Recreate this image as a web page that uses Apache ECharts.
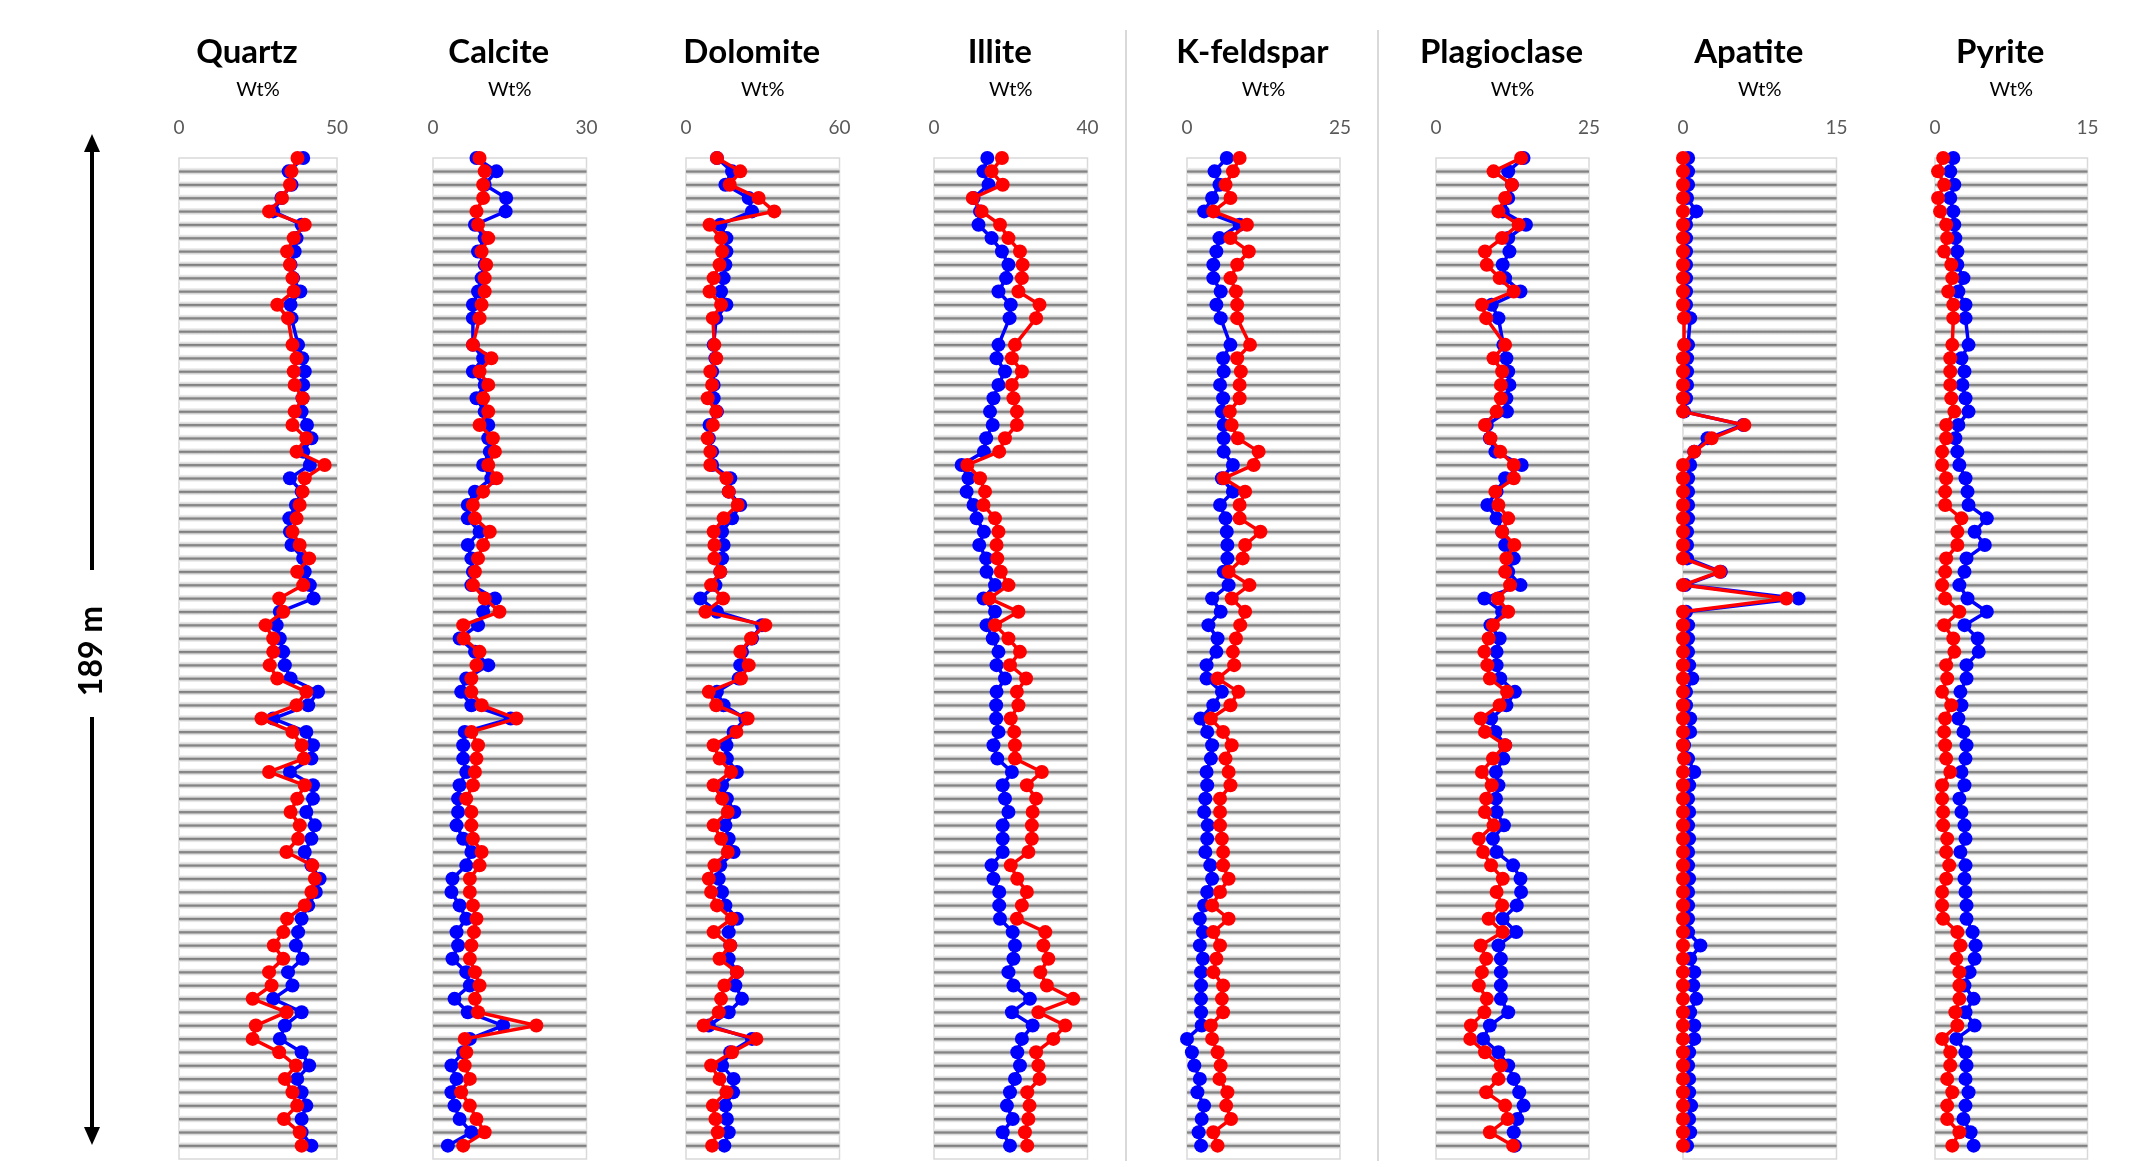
<!DOCTYPE html>
<html>
<head>
<meta charset="utf-8">
<script src="https://cdn.jsdelivr.net/npm/echarts@6/dist/echarts.min.js"></script>
<style>
html,body{margin:0;padding:0;background:#fff;}
#chart{width:2149px;height:1161px;}
</style>
</head>
<body>
<div id="chart"></div>
<script>
// ---- data (75 samples, index 13 missing) ----
const minerals = ['Quartz','Calcite','Dolomite','Illite','K-feldspar','Plagioclase','Apatite','Pyrite'];
const axisMax = [50, 30, 60, 40, 25, 25, 15, 15];
const unitLabel = 'Wt%';
const depthLabel = '189 m';
const sampleRows = Array.from({length: 76}, (_, i) => 'S' + (i + 1));

const quartzBlue = [39.3,34.7,35.6,32.4,29.8,38.8,37.2,36.6,35.3,36.1,38.4,35.3,35.6,null,37.7,39.0,39.8,39.3,39.1,38.8,40.5,41.9,39.3,41.4,35.1,38.8,37.0,34.9,35.1,35.6,39.3,39.8,41.4,42.6,31.9,30.9,31.9,33.0,33.5,35.3,44.0,40.9,29.8,40.3,42.4,41.9,35.1,42.4,42.4,40.3,43.0,41.9,39.8,41.9,44.5,43.3,40.9,38.8,37.7,37.0,39.1,34.5,35.9,29.8,38.8,33.5,31.9,38.8,41.2,37.4,38.8,40.3,38.8,38.8,41.9];
const quartzRed = [37.5,35.6,35.1,32.6,28.5,39.8,36.3,34.2,35.1,35.9,36.3,31.1,34.5,null,35.9,37.2,36.3,36.6,39.1,36.6,35.9,40.3,37.2,46.1,39.8,39.1,38.2,37.2,35.9,38.2,41.2,37.4,39.3,31.7,33.0,27.4,29.8,29.8,28.7,31.1,40.3,37.2,26.1,35.9,38.8,39.5,28.5,39.8,37.4,35.3,38.2,37.7,34.0,42.2,43.0,41.9,39.8,34.2,33.0,30.0,33.0,28.5,29.3,23.3,34.0,24.3,23.3,31.7,37.0,33.5,35.9,37.4,33.2,38.2,38.8];

const calciteBlue = [8.5,12.4,10.1,14.3,14.2,8.2,10.1,8.8,10.1,9.5,8.8,7.8,7.8,null,7.8,9.8,7.8,10.1,8.5,10.1,10.8,10.8,11.1,9.8,11.4,8.2,6.8,6.8,9.1,6.8,7.5,7.8,7.5,12.1,9.8,8.8,5.2,8.2,10.8,6.5,5.5,7.5,15.2,6.2,5.9,5.9,6.5,5.2,4.9,4.9,4.6,5.9,7.5,6.5,3.8,3.6,5.2,6.5,4.6,4.9,3.8,6.5,7.2,4.2,6.8,13.7,7.2,5.9,3.6,4.6,3.6,4.2,5.2,7.5,2.9];
const calciteRed = [9.1,10.1,9.8,9.8,8.5,8.8,10.8,9.5,10.4,10.1,10.1,9.5,9.1,null,7.8,11.4,9.1,10.8,9.8,10.8,9.1,11.7,12.1,10.8,12.4,9.8,7.8,8.2,11.1,9.8,8.8,8.2,7.8,10.1,13.0,5.9,6.0,9.1,8.5,7.5,7.5,9.5,16.3,7.5,8.8,8.5,8.2,7.8,6.5,7.5,7.5,7.8,9.5,9.1,7.2,7.2,7.8,8.5,8.0,7.5,7.2,8.2,9.1,8.2,8.8,20.2,6.2,6.5,6.2,7.2,5.5,7.2,8.5,10.1,5.9];

const dolomiteBlue = [12.1,18.0,15.4,24.5,25.8,13.4,15.8,15.8,15.4,14.7,13.7,15.8,11.8,null,10.8,11.5,10.2,10.8,10.8,12.1,9.2,8.9,10.2,10.2,17.3,16.7,21.2,18.0,14.1,14.7,14.1,13.4,11.5,5.6,12.1,29.7,25.8,21.9,21.2,20.6,12.1,14.7,23.2,18.6,15.8,16.0,19.9,14.1,16.0,18.9,15.4,16.7,18.6,13.4,12.8,14.1,15.4,19.9,16.7,17.3,16.7,19.9,19.3,21.9,16.7,8.9,25.8,17.3,14.1,18.6,18.4,15.4,16.0,16.7,15.0];
const dolomiteRed = [12.1,21.2,17.1,28.4,34.5,9.2,13.7,14.1,13.1,10.8,9.2,13.7,10.5,null,11.1,11.8,9.5,10.2,8.5,11.8,10.5,8.5,9.5,9.5,15.8,16.7,20.2,14.7,10.8,11.1,11.1,13.4,9.8,14.5,7.6,31.0,25.4,21.2,24.5,21.5,8.9,11.8,24.1,19.7,10.8,13.1,17.6,10.8,14.1,16.3,10.8,13.7,16.3,11.1,8.9,9.8,12.1,17.9,10.8,17.3,13.1,19.9,15.0,13.7,12.8,6.9,27.5,18.0,9.8,13.1,15.8,10.5,11.5,12.4,10.2];

const illiteBlue = [13.9,12.9,14.2,10.3,12.0,11.6,15.0,17.7,19.4,18.8,16.8,20.0,19.7,null,16.8,16.3,18.5,16.8,15.5,14.6,15.3,13.6,13.0,7.2,9.0,8.5,10.3,11.1,13.0,11.8,13.6,13.7,15.9,12.9,15.9,13.7,15.3,16.8,16.3,18.5,16.3,16.2,16.2,16.8,15.5,16.5,20.3,17.9,18.5,19.4,17.9,17.9,17.9,15.0,15.5,17.0,17.0,17.2,20.5,21.1,20.7,19.4,20.7,25.0,20.3,25.7,22.9,21.7,22.4,21.1,19.8,19.0,20.5,17.9,19.8];
const illiteRed = [17.7,15.0,17.9,10.1,12.4,17.2,19.4,22.4,23.1,22.9,22.0,27.5,26.6,null,21.1,20.3,22.9,20.3,20.7,21.6,21.6,18.5,17.0,8.7,12.0,13.3,12.9,15.9,16.8,16.3,16.5,17.4,19.4,14.4,22.0,15.9,19.4,22.4,19.8,24.0,21.6,22.0,20.0,20.9,21.1,21.1,28.1,24.2,26.6,25.7,25.5,25.5,24.6,20.0,21.7,24.2,22.9,21.6,29.0,28.5,29.8,27.7,29.4,36.3,27.2,34.2,31.1,26.6,27.2,27.5,24.3,24.9,24.6,23.7,24.3];

const kfeldsparBlue = [6.5,4.5,5.3,4.1,2.8,8.6,5.3,4.8,4.3,4.3,5.5,4.8,5.5,null,7.1,5.9,6.0,5.4,5.9,5.7,6.0,6.0,6.0,7.5,5.7,7.5,5.4,6.3,6.5,6.6,6.6,6.0,6.8,4.1,5.5,3.5,5.0,4.8,3.2,3.2,5.7,4.3,2.2,3.3,4.1,3.9,3.2,3.3,3.0,2.8,3.4,3.3,3.0,3.8,4.1,3.3,2.8,2.1,2.6,2.1,2.6,2.3,2.3,2.3,2.3,2.4,0.0,0.8,1.2,2.1,1.7,2.8,2.4,1.9,2.3];
const kfeldsparRed = [8.6,7.5,6.3,7.1,4.3,9.8,7.1,10.1,8.2,7.1,8.0,8.2,8.2,null,10.3,8.2,8.8,8.6,8.6,7.0,7.3,8.3,11.7,10.9,6.0,9.5,8.6,8.6,12.0,9.5,9.1,6.8,10.2,7.3,9.5,8.7,8.0,7.5,7.7,5.0,8.4,7.1,3.9,5.9,7.3,6.3,6.8,7.1,5.4,5.4,5.4,5.7,5.9,5.9,6.8,5.4,4.1,6.8,4.3,5.4,4.8,4.3,5.9,5.7,5.9,3.9,4.1,5.0,5.5,5.3,6.6,6.4,7.2,4.3,5.0];

const plagioclaseBlue = [14.3,11.8,12.4,11.8,10.9,14.7,11.8,12.0,10.9,11.3,13.8,9.1,10.2,null,11.0,11.5,11.8,12.0,11.5,11.6,8.3,8.8,9.7,14.0,11.3,9.9,8.4,9.9,10.8,11.3,12.7,11.8,13.8,7.9,10.8,8.9,10.4,9.9,9.9,10.5,12.9,11.5,9.0,9.7,11.3,11.0,9.8,10.2,9.8,9.9,11.1,9.3,9.9,12.6,13.8,13.9,13.2,10.9,13.1,10.2,10.6,10.6,10.6,10.6,11.8,8.8,7.7,10.2,11.8,12.7,13.6,14.3,13.3,12.7,12.9];
const plagioclaseRed = [13.9,9.4,12.4,11.3,10.2,13.5,10.8,8.0,8.3,10.4,12.7,7.5,8.2,null,11.3,9.4,10.8,10.6,10.6,9.9,8.0,8.9,10.5,12.7,12.7,9.7,10.2,11.8,10.8,12.8,11.5,11.3,12.1,10.1,11.8,9.3,8.6,7.9,8.4,8.8,11.6,10.4,7.3,8.0,11.3,9.3,7.5,9.1,8.2,8.0,9.4,7.0,7.7,9.0,10.9,9.9,10.8,8.6,10.9,7.3,8.2,7.5,7.0,8.3,7.9,5.7,5.6,8.0,10.6,10.2,8.2,11.3,11.7,8.8,12.6];

const apatiteBlue = [0.5,0.5,0.5,0.4,1.3,0.3,0.3,0.3,0.3,0.3,0.3,0.3,0.7,null,0.5,0.4,0.4,0.4,0.3,0.1,5.9,2.4,1.1,0.7,0.5,0.5,0.5,0.5,0.4,0.4,0.4,3.7,0.2,11.3,0.3,0.5,0.5,0.5,0.6,0.9,0.3,0.3,0.7,0.7,0.1,0.5,1.1,0.6,0.5,0.6,0.5,0.6,0.5,0.5,0.6,0.5,0.5,0.5,0.5,1.7,0.7,1.1,1.0,1.3,0.7,1.1,1.1,0.6,0.5,0.6,0.6,0.8,0.6,0.7,0.4];
const apatiteRed = [0,0,0,0,0,0,0,0,0,0,0,0,0.1,null,0.1,0,0,0,0,0,6.0,2.8,1.1,0,0,0,0,0,0,0,0,3.6,0,10.1,0,0,0,0,0,0,0,0,0,0,0,0.1,0,0,0,0,0,0,0,0,0,0,0,0,0,0,0,0,0,0,0,0,0,0,0,0,0,0,0,0,0];

const pyriteBlue = [1.8,1.5,1.9,1.5,1.8,1.9,2.0,2.2,2.2,2.8,2.3,3.0,3.0,null,3.3,2.6,2.9,2.7,3.0,3.3,2.3,2.0,2.2,2.4,3.0,3.2,3.3,5.1,3.9,4.9,3.1,2.9,2.4,3.2,5.1,2.9,4.2,4.3,3.1,3.1,2.5,2.6,2.3,2.8,3.1,3.0,2.6,2.9,2.4,2.6,2.9,3.0,2.5,3.0,2.9,3.0,3.1,3.1,3.7,4.0,3.9,3.4,2.9,3.8,3.0,3.9,2.1,3.0,3.1,3.0,3.3,3.0,2.8,3.5,3.8];
const pyriteRed = [0.8,0.3,0.9,0.3,0.5,1.1,1.2,0.9,1.6,1.7,1.3,1.8,1.8,null,1.7,1.5,1.5,1.5,1.6,1.9,1.1,1.1,0.7,0.7,1.1,1.0,1.0,2.6,2.2,2.2,1.1,1.0,0.7,1.0,2.4,0.9,1.8,1.9,1.1,1.2,0.7,1.6,1.0,0.9,1.0,1.1,1.5,0.7,0.7,0.8,0.8,1.2,1.1,1.4,1.1,0.7,0.7,0.8,2.2,2.5,2.1,2.4,2.4,2.4,2.0,2.2,0.7,1.5,1.5,1.2,1.7,1.2,1.2,2.4,1.7];

const blueSeries = [quartzBlue, calciteBlue, dolomiteBlue, illiteBlue, kfeldsparBlue, plagioclaseBlue, apatiteBlue, pyriteBlue];
const redSeries = [quartzRed, calciteRed, dolomiteRed, illiteRed, kfeldsparRed, plagioclaseRed, apatiteRed, pyriteRed];

// ---- layout ----
const gridLeft = [179, 433, 686, 934, 1187, 1436, 1683, 1935];
const gridWidth = [158, 153.5, 153.5, 153.5, 153, 153, 153.5, 152.5];
const gridTop = 158, gridHeight = 1001;

const chart = echarts.init(document.getElementById('chart'), null, {renderer: 'canvas'});

const grids = [], xAxes = [], yAxes = [], series = [], graphics = [];
const stripeGradient = new echarts.graphic.LinearGradient(0, 0, 0, 1, [
  {offset: 0, color: '#f4f4f4'},
  {offset: 0.3, color: '#d6d6d6'},
  {offset: 0.45, color: '#7f7f7f'},
  {offset: 0.62, color: '#8a8a8a'},
  {offset: 0.8, color: '#dadada'},
  {offset: 1, color: '#f4f4f4'}
]);

minerals.forEach((name, i) => {
  grids.push({left: gridLeft[i], width: gridWidth[i], top: gridTop, height: gridHeight,
    show: true, borderColor: '#d9d9d9', borderWidth: 1.5, backgroundColor: '#ffffff'});
  xAxes.push({type: 'value', gridIndex: i, position: 'top', min: 0, max: axisMax[i], interval: axisMax[i],
    axisLine: {show: false}, axisTick: {show: false}, splitLine: {show: false},
    axisLabel: {color: '#595959', fontSize: 19, fontFamily: 'Lato', margin: 21}});
  yAxes.push({type: 'category', gridIndex: i, data: sampleRows, inverse: true, boundaryGap: false, show: false});
  const stripes = sampleRows.map((s, k) => (k === 0 || k === sampleRows.length - 1) ? null : axisMax[i]);
  series.push({type: 'bar', xAxisIndex: i, yAxisIndex: i, data: stripes, barWidth: 7, silent: true,
    itemStyle: {color: stripeGradient}, z: 1, animation: false});
  series.push({type: 'line', name: name + ' blue', xAxisIndex: i, yAxisIndex: i, data: blueSeries[i],
    connectNulls: true, clip: false, symbol: 'circle', symbolSize: 14, showSymbol: true, showAllSymbol: true,
    lineStyle: {color: '#0000ff', width: 3.5}, itemStyle: {color: '#0000ff'}, z: 3, animation: false});
  series.push({type: 'line', name: name + ' red', xAxisIndex: i, yAxisIndex: i, data: redSeries[i],
    connectNulls: true, clip: false, symbol: 'circle', symbolSize: 14, showSymbol: true, showAllSymbol: true,
    lineStyle: {color: '#ff0000', width: 3.5}, itemStyle: {color: '#ff0000'}, z: 4, animation: false});
  const cx = gridLeft[i] + gridWidth[i] / 2;
  graphics.push({type: 'text', x: cx - 11, y: 52, style: {text: name, font: 'bold 33px Lato', fill: '#000', align: 'center', verticalAlign: 'middle'}});
  graphics.push({type: 'text', x: cx, y: 90, style: {text: unitLabel, font: '20px Lato', fill: '#000', align: 'center', verticalAlign: 'middle'}});
});

// separators
[1126, 1378].forEach(x => graphics.push({type: 'line', shape: {x1: x, y1: 30, x2: x, y2: 1161}, style: {stroke: '#d9d9d9', lineWidth: 2}}));
// double arrow
const ax = 92;
graphics.push({type: 'line', shape: {x1: ax, y1: 148, x2: ax, y2: 570}, style: {stroke: '#000', lineWidth: 4}});
graphics.push({type: 'line', shape: {x1: ax, y1: 717, x2: ax, y2: 1131}, style: {stroke: '#000', lineWidth: 4}});
graphics.push({type: 'polygon', shape: {points: [[ax, 134], [ax - 8, 152], [ax + 8, 152]]}, style: {fill: '#000'}});
graphics.push({type: 'polygon', shape: {points: [[ax, 1145], [ax - 8, 1127], [ax + 8, 1127]]}, style: {fill: '#000'}});
graphics.push({type: 'text', x: ax, y: 651, rotation: Math.PI / 2, style: {text: depthLabel, font: 'bold 32px Lato', fill: '#000', align: 'center', verticalAlign: 'middle'}});

chart.setOption({
  backgroundColor: '#ffffff',
  animation: false,
  grid: grids, xAxis: xAxes, yAxis: yAxes, series: series,
  graphic: graphics
});
</script>
</body>
</html>
